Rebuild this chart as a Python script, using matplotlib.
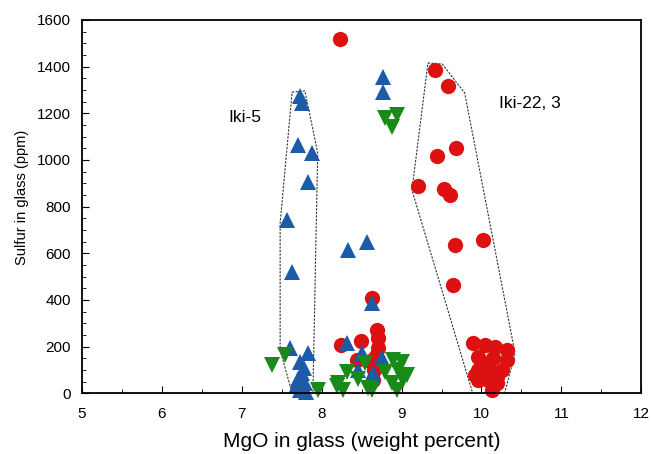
import matplotlib.pyplot as plt
from matplotlib.ticker import MultipleLocator

plt.rcParams['font.family'] = ['Liberation Sans', 'DejaVu Sans']

# Red circles (Iki-22, 3 and others)
red_mgo = [8.23, 9.42, 9.58, 9.68, 9.44, 9.21, 9.53, 9.61, 9.67, 10.02, 9.64,
           8.24, 8.49, 8.69, 8.70, 8.70, 8.44, 8.65, 8.64, 8.63, 8.60, 8.68,
           9.89, 10.04, 10.17, 10.32, 9.96, 10.14, 10.32, 9.96, 10.11, 10.26,
           9.96, 10.08, 10.19, 10.13, 10.20, 9.92, 10.05]
red_s = [1519, 1386, 1317, 1051, 1017, 888, 875, 850, 635, 656, 463,
         206, 223, 270, 236, 193, 142, 99, 56, 410, 140, 160,
         215, 206, 197, 184, 154, 150, 142, 99, 99, 99,
         56, 56, 43, 13, 70, 80, 120]

# Blue triangles (Iki-5 and others)
blue_mgo = [7.73, 7.75, 7.70, 7.88, 7.83, 7.57, 7.63, 7.60, 7.83, 7.73, 7.78,
            7.75, 7.70, 7.79, 7.73, 7.80, 7.68,
            8.33, 8.57, 8.63, 8.77, 8.77, 8.32, 8.50, 8.75, 8.45, 8.64]
blue_s = [1275, 1245, 1064, 1030, 905, 742, 519, 193, 172, 133, 110,
          86, 60, 43, 13, 5, 30,
          613, 647, 386, 1356, 1291, 215, 172, 150, 99, 86]

# Green inverted triangles
green_mgo = [7.38, 7.54, 7.95, 8.19, 8.27, 8.32, 8.20, 8.45, 8.54, 8.58, 8.63,
             8.79, 8.88, 8.89, 8.94, 9.00, 9.02, 9.07, 8.96, 8.79, 8.94, 8.88]
green_s = [120, 163, 13, 30, 13, 90, 43, 60, 129, 21, 13,
           90, 43, 142, 13, 133, 56, 77, 100, 1180, 1193, 1141]

# Dashed outlines around the sample groups
iki5_x = [7.63, 7.79, 7.95, 7.89, 7.63, 7.48, 7.48, 7.63]
iki5_y = [1291, 1296, 1030, 0, 0, 184, 729, 1291]
iki22_x = [9.33, 9.51, 9.79, 10.42, 10.29, 9.89, 9.13, 9.33]
iki22_y = [1416, 1411, 1287, 172, 0, 0, 871, 1416]

fig = plt.figure(figsize=(6.51, 4.54), dpi=100)
ax = fig.add_axes([0.126, 0.134, 0.859, 0.822])

ax.plot(iki5_x, iki5_y, ls=(0, (2, 1.2)), color='#333333', lw=0.8)
ax.plot(iki22_x, iki22_y, ls=(0, (2, 1.2)), color='#333333', lw=0.8)

ax.plot(red_mgo, red_s, 'o', color='#dd1111', ms=11, mew=0, clip_on=False)
ax.plot(blue_mgo, blue_s, '^', color='#1b5ba8', ms=12, mew=0, clip_on=False)
ax.plot(green_mgo, green_s, 'v', color='#178a17', ms=12, mew=0, clip_on=False)

ax.text(7.04, 1184, 'Iki-5', fontsize=12.5, ha='center', va='center')
ax.text(10.61, 1244, 'Iki-22, 3', fontsize=12.5, ha='center', va='center')

ax.set_xlim(5, 12)
ax.set_ylim(0, 1600)
ax.xaxis.set_major_locator(MultipleLocator(1))
ax.xaxis.set_minor_locator(MultipleLocator(0.5))
ax.yaxis.set_major_locator(MultipleLocator(200))
ax.yaxis.set_minor_locator(MultipleLocator(50))
ax.tick_params(which='both', direction='in', labelsize=11)
ax.tick_params(axis='x', pad=10)
ax.tick_params(axis='y', pad=8)
ax.tick_params(which='major', length=5)
ax.tick_params(which='minor', length=3)
for sp in ax.spines.values():
    sp.set_linewidth(1.3)

ax.set_xlabel('MgO in glass (weight percent)', fontsize=15, labelpad=8)
ax.set_ylabel('Sulfur in glass (ppm)', fontsize=10.5)
ax.yaxis.set_label_coords(-0.095, 0.525)

fig.savefig('out.png', dpi=100)
